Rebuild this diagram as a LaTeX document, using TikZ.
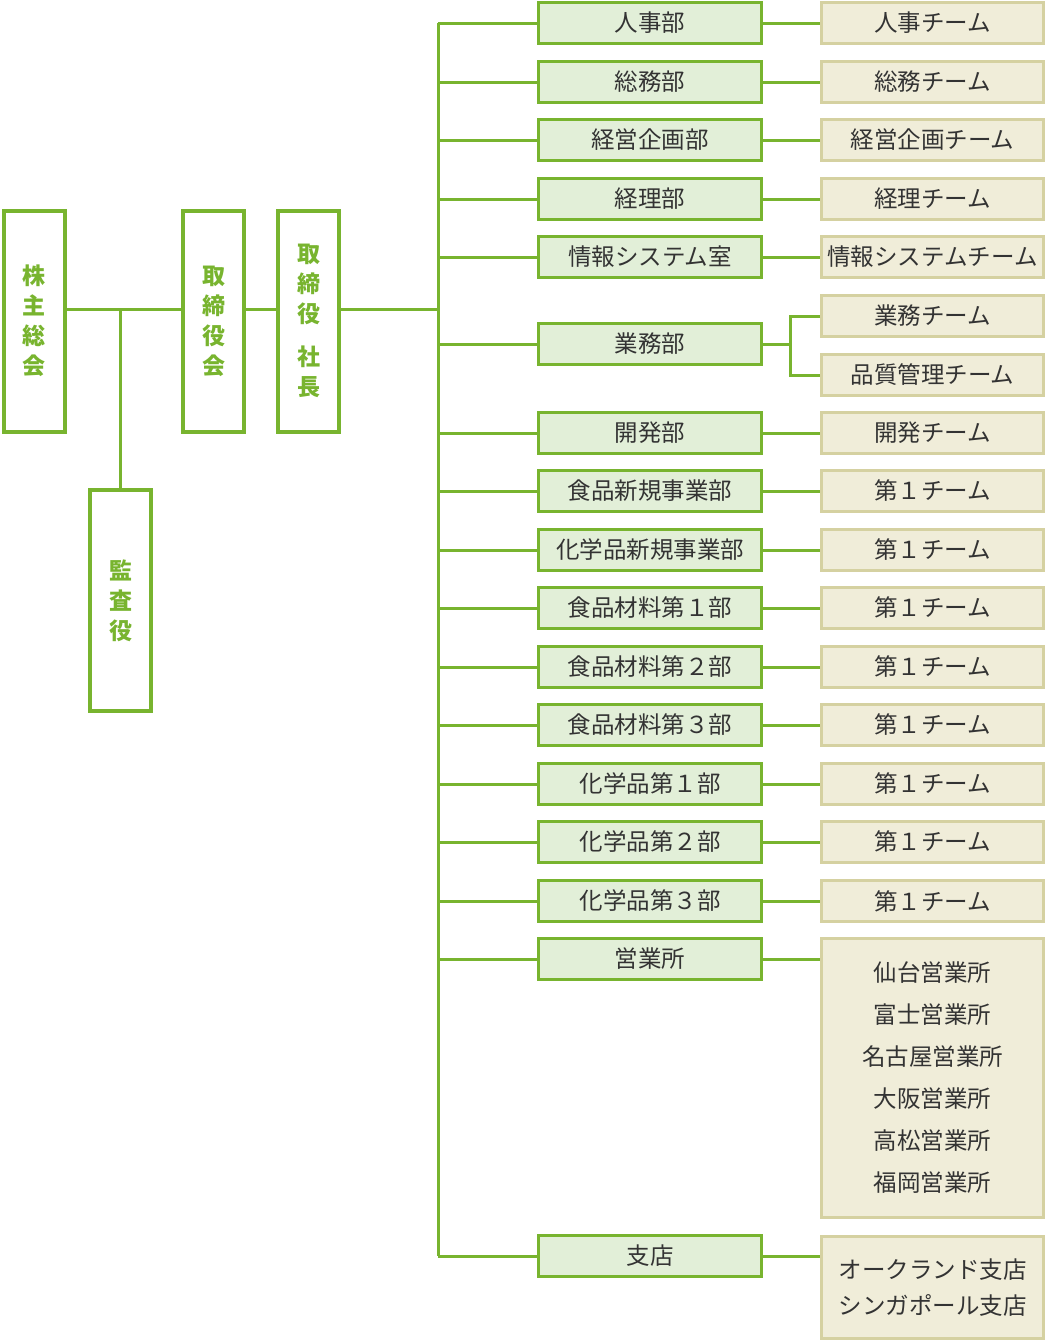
\documentclass[tikz,border=0pt]{standalone}
\usepackage{fontspec}
\setmainfont{Noto Sans CJK JP}
\definecolor{grn}{HTML}{78B42F}
\definecolor{dfill}{HTML}{E2EFD8}
\definecolor{tfill}{HTML}{F0EDD9}
\definecolor{tline}{HTML}{D5D1A1}
\definecolor{txt}{HTML}{333333}
\tikzset{
  dept/.style={draw=grn, fill=dfill, line width=3pt, minimum width=223pt, minimum height=41pt, inner sep=0pt, text=txt, font=\fontsize{23.5}{28}\selectfont},
  team/.style={draw=tline, fill=tfill, line width=3pt, minimum width=222pt, minimum height=41pt, inner sep=0pt, text=txt, font=\fontsize{23.5}{28}\selectfont},
  topbox/.style={draw=grn, line width=4pt, minimum width=61pt, minimum height=221pt, inner sep=0pt, text=grn, align=center, font=\fontsize{23}{30}\selectfont\bfseries},
  conn/.style={draw=grn, line width=3pt}
}
\begin{document}
\begin{tikzpicture}[x=1pt,y=-1pt]
\useasboundingbox (0,0) rectangle (1048,1341);
% top-level boxes
\node[topbox] (kabu) at (34,321) {株\\主\\総\\会};
\node[topbox] (tori) at (213.5,321) {取\\締\\役\\会};
\node[topbox] (sha) at (308.5,321) {取\\締\\役\\[13pt]社\\長};
\node[topbox] (kansa) at (120.5,600.5) {監\\査\\役};
\coordinate (hl) at (0,309);
\coordinate (trunk) at (438,0);
\coordinate (fork) at (790,0);
% departments
\foreach \n/\y/\t in {d1/23/人事部, d2/82/総務部, d3/140/経営企画部, d4/199/経理部, d5/257/情報システム室, d6/344/業務部, d7/433/開発部, d8/491/食品新規事業部, d9/550/化学品新規事業部, d10/608/食品材料第１部, d11/667/食品材料第２部, d12/725/食品材料第３部, d13/784/化学品第１部, d14/842/化学品第２部, d15/901/化学品第３部, d16/959/営業所, d17/1256/支店}
  \node[dept] (\n) at (650,\y) {\t};
% teams
\foreach \n/\y/\t in {t1/23/人事チーム, t2/82/総務チーム, t3/140/経営企画チーム, t4/199/経理チーム, t5/257/情報システムチーム, t6a/316/業務チーム, t6b/375/品質管理チーム, t7/433/開発チーム, t8/491/第１チーム, t9/550/第１チーム, t10/608/第１チーム, t11/667/第１チーム, t12/725/第１チーム, t13/784/第１チーム, t14/842/第１チーム, t15/901/第１チーム}
  \node[team] (\n) at (932.5,\y) {\t};
\node[team, minimum height=279pt, align=center, font=\fontsize{23.5}{42}\selectfont] (t16) at (932.5,1078) {仙台営業所\\富士営業所\\名古屋営業所\\大阪営業所\\高松営業所\\福岡営業所};
\node[team, minimum height=102pt, align=center, font=\fontsize{23.5}{36}\selectfont] (t17) at (932.5,1287.5) {オークランド支店\\シンガポール支店};
% left connectors
\draw[conn] (kabu.east |- hl) -- (tori.west |- hl);
\draw[conn] (tori.east |- hl) -- (sha.west |- hl);
\draw[conn] (sha.east |- hl) -- (trunk |- hl);
\draw[conn] (kansa.north) -- (kansa.north |- hl);
% trunk
\draw[conn] (trunk |- d1) -- (trunk |- d17);
\foreach \n in {d1,d2,d3,d4,d5,d6,d7,d8,d9,d10,d11,d12,d13,d14,d15,d16,d17}
  \draw[conn] (trunk |- \n) -- (\n.west);
% dept to team
\foreach \a/\b in {d1/t1,d2/t2,d3/t3,d4/t4,d5/t5,d7/t7,d8/t8,d9/t9,d10/t10,d11/t11,d12/t12,d13/t13,d14/t14,d15/t15}
  \draw[conn] (\a.east) -- (\b.west);
\draw[conn] (d16.east) -- (d16.east -| t16.west);
\draw[conn] (d17.east) -- (d17.east -| t17.west);
\draw[conn] (d6.east) -- (fork |- d6);
\draw[conn] (t6a.west) -| (fork |- d6) |- (t6b.west);
\end{tikzpicture}
\end{document}
